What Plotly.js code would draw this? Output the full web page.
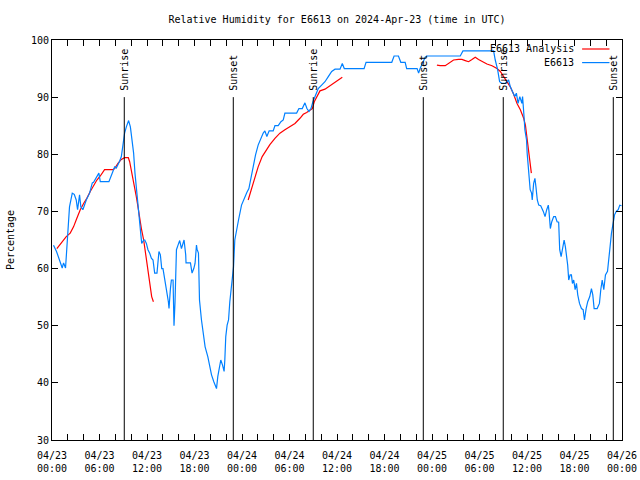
<!DOCTYPE html>
<html>
<head>
<meta charset="utf-8">
<script src="https://cdn.plot.ly/plotly-3.0.1.min.js"></script>
<style>html,body{margin:0;padding:0;background:#fff;}#chart{width:640px;height:480px;}</style>
</head>
<body>
<div id="chart"></div>
<script>
// Hours since 2024-04-23 00:00 UTC
var obsHours = [0.19,0.57,1.29,1.46,1.71,1.87,2.21,2.56,2.81,3.06,3.23,3.48,3.64,3.90,4.33,4.75,5.09,5.25,5.59,5.92,6.10,7.19,7.69,7.91,8.12,8.33,8.54,8.76,8.96,9.17,9.39,9.68,9.90,10.15,10.31,10.48,10.73,10.91,11.16,11.33,11.58,11.72,11.92,12.12,12.34,12.55,12.76,12.97,13.26,13.51,13.69,13.86,14.02,14.24,14.45,14.70,14.78,14.96,15.08,15.29,15.41,15.54,15.63,15.72,15.92,16.13,16.35,16.48,16.68,16.89,16.93,17.49,17.69,17.91,18.07,18.25,18.32,18.50,18.63,18.88,19.08,19.34,19.68,19.93,20.15,20.44,20.78,20.94,21.20,21.32,21.54,21.74,21.83,21.95,22.12,22.30,22.46,22.63,22.80,22.93,23.09,23.31,23.56,23.94,24.27,24.61,24.87,25.12,25.41,25.71,26.04,26.38,26.68,26.89,27.14,27.43,27.94,28.16,28.57,28.92,29.21,29.42,30.90,31.19,31.61,31.95,32.20,32.46,32.71,32.96,33.31,33.63,34.06,34.48,34.90,35.33,35.75,36.38,36.67,36.92,39.42,39.67,42.92,43.21,43.76,44.06,44.61,44.80,46.12,46.31,46.50,47.14,47.35,51.57,51.91,55.78,55.99,56.29,56.54,56.84,57.26,57.68,57.89,58.23,58.45,58.66,58.87,59.09,59.35,59.44,59.51,59.64,59.73,59.94,60.02,60.14,60.27,60.40,60.58,60.66,60.84,61.00,61.13,61.30,61.48,61.73,62.06,62.28,62.49,62.69,62.78,62.95,63.13,63.37,63.59,63.80,64.00,64.13,64.31,64.43,64.56,64.69,64.85,64.98,65.14,65.27,65.45,65.61,65.74,65.90,66.08,66.25,66.41,66.63,66.88,67.09,67.26,67.47,67.67,67.93,68.14,68.31,68.48,68.86,69.15,69.32,69.50,69.70,69.91,70.17,70.33,70.51,70.67,70.84,71.06,71.27,71.52,71.72,71.94];
var obsRH = [64.1,63.0,60.1,61.0,60.1,63.0,70.8,73.2,73.0,72.0,70.3,72.9,70.8,70.3,72.0,73.2,75.0,75.1,76.0,76.7,75.2,75.2,77.0,77.8,77.6,78.1,78.8,79.6,81.9,83.7,84.8,85.9,84.8,82.5,80.2,76.7,73.2,69.7,66.2,64.4,65.0,65.0,64.4,63.3,62.7,61.8,61.5,59.2,59.2,63.0,62.4,60.0,60.0,57.7,56.3,54.2,53.0,56.5,58.0,58.0,50.0,54.2,59.8,63.3,64.1,64.9,63.5,64.1,65.0,62.4,61.0,61.0,59.2,60.0,60.9,64.1,63.4,62.7,54.5,51.0,48.7,46.3,44.6,42.8,41.4,40.2,39.0,41.1,43.4,44.0,43.1,42.0,44.0,48.1,50.1,51.0,54.2,56.8,58.6,60.3,65.0,66.8,68.5,71.1,72.3,73.3,74.0,75.8,77.5,79.9,81.6,82.8,83.7,84.1,83.1,84.1,84.1,85.0,85.0,85.7,86.0,87.2,87.2,88.0,88.0,89.0,88.0,87.5,88.0,89.2,90.4,91.5,92.1,92.7,93.6,94.5,94.9,94.9,95.9,95.0,95.0,96.1,96.1,97.2,97.2,96.1,96.1,95.0,95.0,94.2,95.0,97.0,97.2,97.2,98.1,98.1,96.5,94.8,92.7,92.4,92.4,93.0,91.8,90.7,90.1,90.7,88.9,90.1,88.9,90.1,87.8,86.3,84.3,82.5,80.2,77.8,76.1,73.8,73.2,72.0,74.9,75.8,74.3,72.0,71.1,71.0,70.0,69.1,70.3,71.1,70.0,67.0,68.2,69.1,69.1,68.2,68.1,63.3,62.1,63.0,64.1,65.0,63.8,62.7,60.6,58.0,58.9,58.9,57.4,58.0,56.3,57.4,55.4,53.9,53.0,52.8,51.0,53.0,54.2,55.1,56.5,55.4,53.0,53.0,53.9,56.3,58.0,56.3,58.9,59.5,62.1,64.1,66.2,67.6,69.4,70.0,70.3,71.1,71.0];

var anaHours = [0.61,1.16,1.80,2.30,2.72,3.14,3.57,3.99,4.40,4.83,5.25,5.67,6.10,6.43,6.64,7.69,7.91,8.33,8.76,9.17,9.64,9.81,10.02,10.22,10.44,10.65,10.86,11.07,11.29,11.58,11.83,12.08,12.34,12.59,12.81,18.0,24.78,25.21,25.63,26.04,26.55,27.11,27.52,28.16,28.79,29.42,30.05,30.69,31.32,31.74,32.17,32.59,32.88,33.13,33.43,33.85,34.48,34.90,35.33,35.96,36.67,42.0,48.62,49.03,49.67,50.09,50.72,51.35,51.78,52.20,52.62,53.05,53.46,53.88,54.44,54.94,55.58,56.21,56.63,57.05,57.48,57.89,58.31,58.74,59.16,59.58,59.80,60.02,60.22,60.40,60.55];
var anaRH = [63.5,64.4,65.6,66.2,67.3,68.8,70.3,71.4,72.3,73.5,74.6,75.5,76.2,77.0,77.3,77.3,77.5,78.4,79.1,79.4,79.4,78.7,77.3,75.5,74.0,72.6,70.8,68.8,67.0,65.0,62.7,59.8,57.4,55.1,54.2,null,72.0,74.0,75.8,77.8,79.6,80.8,81.7,82.8,83.7,84.3,84.8,85.4,86.3,87.0,87.3,87.8,88.0,89.2,90.1,91.1,91.4,91.8,92.2,92.8,93.5,null,95.6,95.5,95.5,95.9,96.5,96.6,96.6,96.4,96.2,96.6,97.0,96.6,96.2,95.8,95.5,95.0,94.5,93.6,92.7,91.8,90.5,88.9,87.8,86.3,85.1,82.5,80.5,78.7,76.7];

var sunHours = [9.13, 22.9, 33.0, 46.9, 57.0, 70.9];
var sunLabels = ['Sunrise','Sunset','Sunrise','Sunset','Sunrise','Sunset'];

var tickHours = [0,6,12,18,24,30,36,42,48,54,60,66,72];
var tickLabels = ['04/23<br>00:00','04/23<br>06:00','04/23<br>12:00','04/23<br>18:00','04/24<br>00:00','04/24<br>06:00','04/24<br>12:00','04/24<br>18:00','04/25<br>00:00','04/25<br>06:00','04/25<br>12:00','04/25<br>18:00','04/26<br>00:00'];

var seriesNames = ['E6613 Analysis', 'E6613'];
var seriesColors = ['#ff0000', '#0080ff'];

var BASE = Date.UTC(2024, 3, 23);
function toTime(h) {
  return new Date(BASE + h * 3600000).toISOString().replace('T', ' ').slice(0, 19);
}

var FONT = 'DejaVu Sans Mono, monospace';

var traces = [
  {x: anaHours.map(toTime), y: anaRH, type: 'scatter', mode: 'lines', name: seriesNames[0],
   line: {color: seriesColors[0], width: 1.2}, connectgaps: false, showlegend: false},
  {x: obsHours.map(toTime), y: obsRH, type: 'scatter', mode: 'lines', name: seriesNames[1],
   line: {color: seriesColors[1], width: 1.2}, showlegend: false}
];

var shapes = sunHours.map(function (h) {
  return {type: 'line', xref: 'x', yref: 'y', x0: toTime(h), x1: toTime(h), y0: 30, y1: 90,
          line: {color: '#000', width: 1}};
});
var annotations = sunHours.map(function (h, i) {
  return {xref: 'x', yref: 'y', x: toTime(h), y: 90.8, text: sunLabels[i], textangle: -90,
          showarrow: false, xanchor: 'center', yanchor: 'bottom', font: {family: FONT, size: 10, color: '#000'}};
});

// gnuplot-style key: text right-aligned, line sample on the right
var keyY = [0.9775, 0.9435];
seriesNames.forEach(function (n, i) {
  annotations.push({xref: 'paper', yref: 'paper', x: 0.919, y: keyY[i], text: n, showarrow: false,
                    xanchor: 'right', yanchor: 'middle', font: {family: FONT, size: 10, color: '#000'}});
  shapes.push({type: 'line', xref: 'paper', yref: 'paper', x0: 0.930, x1: 0.978, y0: keyY[i], y1: keyY[i],
               line: {color: seriesColors[i], width: 1.2}});
});

var layout = {
  width: 640, height: 480,
  margin: {l: 52, r: 18, t: 40, b: 40, pad: 0},
  paper_bgcolor: '#fff', plot_bgcolor: '#fff',
  font: {family: FONT, size: 10, color: '#000'},
  title: {text: 'Relative Humidity for E6613 on 2024-Apr-23 (time in UTC)', x: 0.5, xref: 'paper',
          y: 1 - 19 / 480, yref: 'container', yanchor: 'middle', font: {family: FONT, size: 10, color: '#000'}},
  showlegend: false,
  xaxis: {type: 'date', range: [toTime(0), toTime(72)], tickvals: tickHours.map(toTime), ticktext: tickLabels,
          ticks: 'inside', ticklen: 6, tickcolor: '#000', showgrid: false, zeroline: false,
          showline: true, linecolor: '#000', linewidth: 1, mirror: 'ticks', ticklabelstandoff: 6,
          minor: {dtick: 2 * 3600000, ticks: 'inside', ticklen: 6, tickcolor: '#000', showgrid: false},
          tickfont: {family: FONT, size: 10, color: '#000'}, fixedrange: true},
  yaxis: {range: [30, 100], dtick: 10, tick0: 30, ticks: 'inside', ticklen: 6, tickcolor: '#000',
          showgrid: false, zeroline: false, showline: true, linecolor: '#000', linewidth: 1, mirror: 'ticks',
          tickfont: {family: FONT, size: 10, color: '#000'},
          title: {text: 'Percentage', standoff: 14, font: {family: FONT, size: 10, color: '#000'}}, fixedrange: true},
  shapes: shapes,
  annotations: annotations
};

Plotly.newPlot('chart', traces, layout, {displayModeBar: false, staticPlot: true});
</script>
</body>
</html>
